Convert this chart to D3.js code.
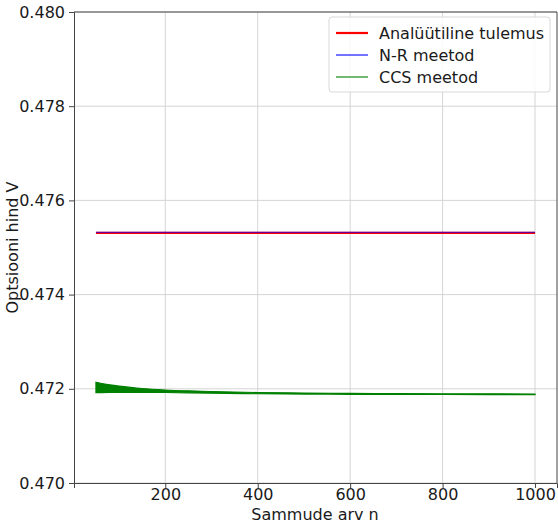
<!DOCTYPE html>
<html><head><meta charset="utf-8">
<script src="https://cdn.jsdelivr.net/npm/d3@7"></script>
<style>body{margin:0;background:#fff;} svg{display:block;font-family:"DejaVu Sans",sans-serif;}</style>
</head><body>
<svg id="c" width="558" height="523"></svg>
<script>
const xTicks = [200, 400, 600, 800, 1000];
const yTicks = [0.470, 0.472, 0.474, 0.476, 0.478, 0.480];
const nRange = [50, 1000];
const analyticValue = 0.47531;
const nrValue = 0.47531;
const ccsN =     [50, 60, 80, 100, 125, 150, 200, 250, 300, 400, 500, 600, 700, 800, 900, 1000];
const ccsUpper = [0.472138, 0.472118, 0.472085, 0.472058, 0.472030, 0.472006, 0.471975, 0.471956, 0.471943, 0.471921, 0.471909, 0.471902, 0.471898, 0.471895, 0.471893, 0.471890];
const ccsLower = [0.471917, 0.471918, 0.471921, 0.471923, 0.471923, 0.471922, 0.471921, 0.471915, 0.471907, 0.471895, 0.471887, 0.471883, 0.471881, 0.471879, 0.471877, 0.471875];
const legendLabels = ["Analüütiline tulemus", "N-R meetod", "CCS meetod"];
const legendColors = ["#ff0000", "#0000ff", "#008000"];

const svg = d3.select("#c");
const L = 74, R = 557, T = 12, B = 483;
const FS = 16;
const x = d3.scaleLinear().domain([2.5, 1047.5]).range([L, R]);
const y = d3.scaleLinear().domain([0.470, 0.480]).range([B, T]);

// grid
const g = svg.append("g");
g.selectAll(".gx").data(xTicks).enter().append("line")
  .attr("x1", d => x(d)).attr("x2", d => x(d)).attr("y1", T).attr("y2", B)
  .attr("stroke", "#d0d0d0").attr("stroke-width", 0.9);
g.selectAll(".gy").data(yTicks).enter().append("line")
  .attr("y1", d => y(d)).attr("y2", d => y(d)).attr("x1", L).attr("x2", R)
  .attr("stroke", "#d0d0d0").attr("stroke-width", 0.9);

// data
const data = ccsN.map((n, i) => ({n, u: ccsUpper[i], l: ccsLower[i]}));
svg.append("path").datum(data)
  .attr("d", d3.area().curve(d3.curveMonotoneX).x(d => x(d.n)).y0(d => y(d.l)).y1(d => y(d.u)))
  .attr("fill", "#008000").attr("stroke", "#008000").attr("stroke-width", 1.2);

svg.append("line").attr("x1", x(nRange[0])).attr("x2", x(nRange[1]))
  .attr("y1", y(analyticValue)).attr("y2", y(analyticValue))
  .attr("stroke", "#ff0000").attr("stroke-width", 2.2);
svg.append("line").attr("x1", x(nRange[0])).attr("x2", x(nRange[1]))
  .attr("y1", y(nrValue) - 0.5).attr("y2", y(nrValue) - 0.5)
  .attr("stroke", "#0000ff").attr("stroke-width", 1.2).attr("opacity", 0.6);

// axes
const xa = svg.append("g").attr("transform", `translate(0,${B})`)
  .call(d3.axisBottom(x).tickValues(xTicks).tickFormat(d3.format("d")).tickSizeOuter(0).tickSize(5).tickPadding(1));
const ya = svg.append("g").attr("transform", `translate(${L},0)`)
  .call(d3.axisLeft(y).tickValues(yTicks).tickFormat(d3.format(".3f")).tickSizeOuter(0).tickSize(5).tickPadding(4));
[xa, ya].forEach(a => {
  a.selectAll("text").attr("font-size", FS).attr("fill", "#1a1a1a").attr("font-family", "DejaVu Sans");
  a.selectAll("line").attr("stroke", "#444");
  a.select(".domain").attr("stroke", "#444");
});
// spines
svg.append("line").attr("x1", L).attr("x2", R).attr("y1", T).attr("y2", T).attr("stroke", "#444");
svg.append("line").attr("x1", R).attr("x2", R).attr("y1", T).attr("y2", B).attr("stroke", "#444");

// labels
svg.append("text").attr("x", (L + R) / 2 - 0.5).attr("y", 520).attr("text-anchor", "middle")
  .attr("font-size", FS).attr("fill", "#1a1a1a").text("Sammude arv n");
svg.append("text").attr("transform", `translate(18,${(T + B) / 2}) rotate(-90)`).attr("text-anchor", "middle")
  .attr("font-size", FS).attr("fill", "#1a1a1a").text("Optsiooni hind V");

// legend
const lg = svg.append("g");
lg.append("rect").attr("x", 329).attr("y", 17).attr("width", 221).attr("height", 75)
  .attr("rx", 3).attr("fill", "#fff").attr("fill-opacity", 0.85).attr("stroke", "#d8d8d8");
legendLabels.forEach((lab, i) => {
  const yy = 33 + i * 22;
  lg.append("line").attr("x1", 336).attr("x2", 368).attr("y1", yy).attr("y2", yy)
    .attr("stroke", legendColors[i]).attr("stroke-width", i === 0 ? 2.2 : 1.1);
  lg.append("text").attr("x", 379).attr("y", yy + 5.5).attr("font-size", FS).attr("fill", "#1a1a1a").text(lab);
});
</script>
</body></html>
